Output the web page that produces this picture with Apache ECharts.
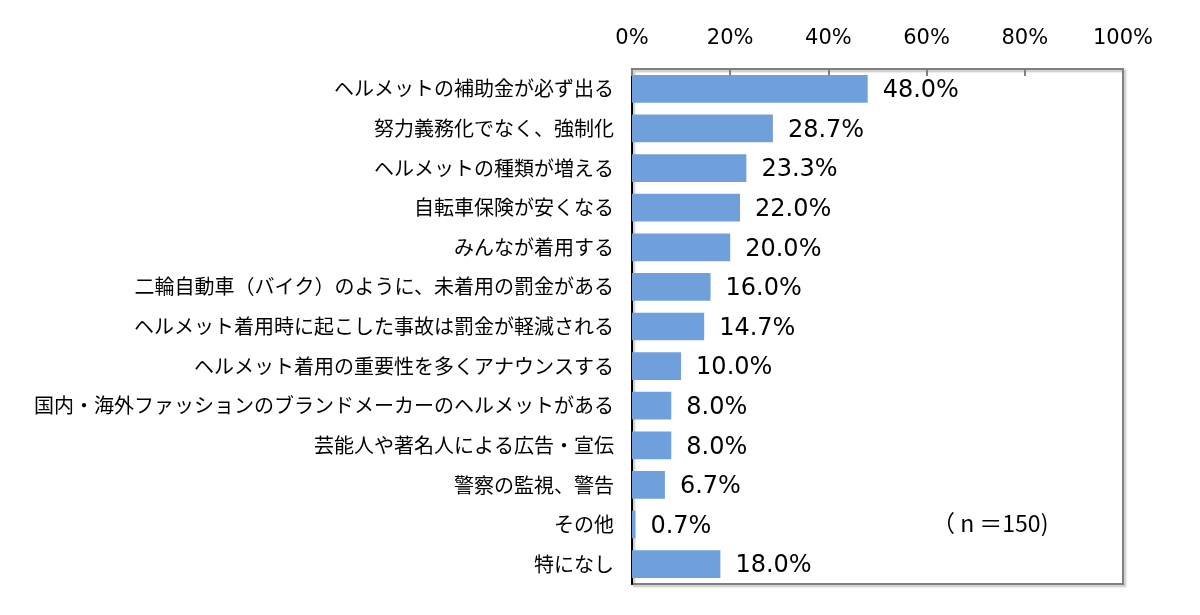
<!DOCTYPE html>
<html><head><meta charset="utf-8">
<script src="https://cdn.jsdelivr.net/npm/echarts@6/dist/echarts.min.js"></script>
<style>html,body{margin:0;padding:0;background:#fff;}#c{width:1200px;height:615px;}</style>
</head><body><div id="c"></div>
<script>
const categories = [
  'ヘルメットの補助金が必ず出る',
  '努力義務化でなく、強制化',
  'ヘルメットの種類が増える',
  '自転車保険が安くなる',
  'みんなが着用する',
  '二輪自動車（バイク）のように、未着用の罰金がある',
  'ヘルメット着用時に起こした事故は罰金が軽減される',
  'ヘルメット着用の重要性を多くアナウンスする',
  '国内・海外ファッションのブランドメーカーのヘルメットがある',
  '芸能人や著名人による広告・宣伝',
  '警察の監視、警告',
  'その他',
  '特になし'
];
const values = [48.0, 28.7, 23.3, 22.0, 20.0, 16.0, 14.7, 10.0, 8.0, 8.0, 6.7, 0.7, 18.0];
const tickValues = [0, 20, 40, 60, 80, 100];
const note = '（ n ＝150)';

const chart = echarts.init(document.getElementById('c'));
chart.setOption({
  backgroundColor: '#fff',
  animation: false,
  grid: {
    left: 632, right: 77, top: 69, bottom: 31,
    show: true, borderColor: '#808080', borderWidth: 2,
    backgroundColor: 'transparent',
    shadowColor: 'rgba(0,0,0,0.25)', shadowBlur: 2, shadowOffsetX: 2, shadowOffsetY: 2
  },
  xAxis: {
    type: 'value', position: 'top', min: 0, max: 100, interval: 20,
    axisLine: { show: true, lineStyle: { color: '#808080', width: 2 } },
    axisTick: { show: true, inside: true, length: 7, lineStyle: { color: '#808080', width: 2 } },
    splitLine: { show: false },
    axisLabel: { formatter: v => tickValues.includes(v) ? v + '%' : '', color: '#000', fontSize: 21, fontFamily: 'DejaVu Sans', margin: 20 }
  },
  yAxis: {
    type: 'category', data: categories, inverse: true,
    axisLine: { show: true, lineStyle: { color: '#000', width: 2 } },
    axisTick: { show: false },
    axisLabel: { color: '#000', fontSize: 20, fontFamily: 'Noto Sans CJK JP', margin: 18 }
  },
  series: [{
    type: 'bar', data: values, barWidth: '70%',
    itemStyle: { color: '#6fa0dc' },
    label: { show: true, position: 'right', distance: 15, offset: [0, 2], formatter: p => p.value.toFixed(1) + '%', color: '#000', fontSize: 24, fontFamily: 'DejaVu Sans' }
  }],
  graphic: [{
    type: 'text', left: 932, top: 512,
    style: { text: note, fill: '#000', fontSize: 23, fontFamily: 'Noto Sans CJK JP' }
  }]
});
</script></body></html>
